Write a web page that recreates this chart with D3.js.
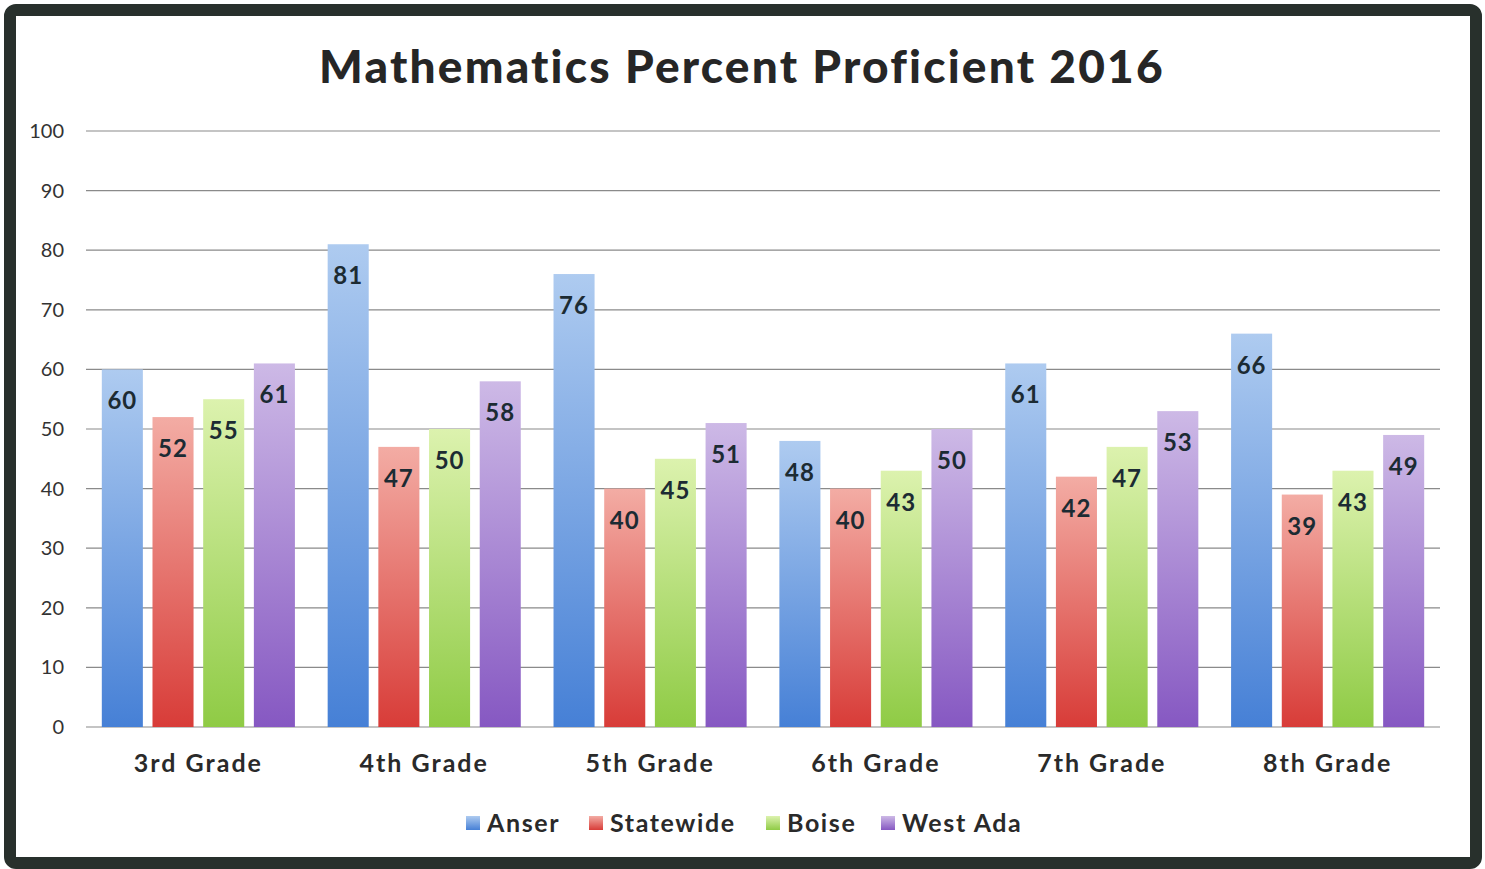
<!DOCTYPE html>
<html>
<head>
<meta charset="utf-8">
<script src="https://cdn.jsdelivr.net/npm/d3@7"></script>
<style>
  html, body { margin: 0; padding: 0; background: #fff; }
  svg { display: block; font-family: "Lato", "Noto Sans", sans-serif; }
</style>
</head>
<body>
<div id="chart"></div>
<script>
// chart data
const grades = ["3rd Grade", "4th Grade", "5th Grade", "6th Grade", "7th Grade", "8th Grade"];
const seriesNames = ["Anser", "Statewide", "Boise", "West Ada"];
const anser = [60, 81, 76, 48, 61, 66];
const statewide = [52, 47, 40, 40, 42, 39];
const boise = [55, 50, 45, 43, 47, 43];
const westAda = [61, 58, 51, 50, 53, 49];
const yTicks = [0, 10, 20, 30, 40, 50, 60, 70, 80, 90, 100];

const seriesValues = [anser, statewide, boise, westAda];
// top / bottom colours of each bar gradient
const barColors = [
    ["#aecbf0", "#4680d6"],
    ["#f3aca4", "#d83c38"],
    ["#dcf2ae", "#8fcb45"],
    ["#cdb9e6", "#8658c2"]
];

const width = 1485, height = 869;
const plot = { left: 86, right: 1440, top: 131, bottom: 727 };

const svg = d3.select("#chart").append("svg")
    .attr("width", width)
    .attr("height", height);

// frame
svg.append("rect")
    .attr("x", 10).attr("y", 10)
    .attr("width", 1466).attr("height", 853)
    .attr("rx", 6)
    .attr("fill", "#fff")
    .attr("stroke", "#28302c")
    .attr("stroke-width", 12);

// gradients
const defs = svg.append("defs");
barColors.forEach((c, i) => {
    const grad = defs.append("linearGradient")
        .attr("id", "grad" + i)
        .attr("x1", 0).attr("y1", 0).attr("x2", 0).attr("y2", 1);
    grad.append("stop").attr("offset", "0%").attr("stop-color", c[0]);
    grad.append("stop").attr("offset", "100%").attr("stop-color", c[1]);
});

// title
svg.append("text")
    .attr("x", 742).attr("y", 83)
    .attr("text-anchor", "middle")
    .attr("font-size", 46)
    .attr("font-weight", "900")
    .attr("letter-spacing", 2.2)
    .attr("fill", "#262626")
    .text("Mathematics Percent Proficient 2016");

// scales
const y = d3.scaleLinear().domain([0, 100]).range([plot.bottom, plot.top]);
const x0 = d3.scaleBand().domain(grades).range([plot.left, plot.right]).paddingInner(0.145).paddingOuter(0.07);
const x1 = d3.scaleBand().domain(seriesNames).range([0, x0.bandwidth()]).paddingInner(0.19);

// gridlines
svg.append("g")
    .selectAll("line")
    .data(yTicks)
    .join("line")
    .attr("x1", plot.left).attr("x2", plot.right)
    .attr("y1", d => y(d)).attr("y2", d => y(d))
    .attr("stroke", "#8a8a8a")
    .attr("stroke-width", 1.2);

// y axis labels
const yAxis = svg.append("g")
    .attr("transform", `translate(${plot.left - 22},0)`)
    .call(d3.axisLeft(y).tickValues(yTicks).tickSize(0).tickPadding(0));
yAxis.select(".domain").remove();
yAxis.selectAll("text")
    .attr("font-size", 20)
    .attr("font-family", "Lato, sans-serif")
    .attr("fill", "#333");

// bars
const rows = grades.map((g, gi) => ({
    grade: g,
    vals: seriesNames.map((s, si) => ({ series: s, si: si, value: seriesValues[si][gi] }))
}));

const groups = svg.append("g")
    .selectAll("g")
    .data(rows)
    .join("g")
    .attr("transform", d => `translate(${x0(d.grade)},0)`);

groups.selectAll("rect")
    .data(d => d.vals)
    .join("rect")
    .attr("x", d => x1(d.series))
    .attr("y", d => y(d.value))
    .attr("width", x1.bandwidth())
    .attr("height", d => y(0) - y(d.value))
    .attr("fill", d => `url(#grad${d.si})`);

groups.selectAll("text")
    .data(d => d.vals)
    .join("text")
    .attr("x", d => x1(d.series) + x1.bandwidth() / 2)
    .attr("y", d => y(d.value) + 40)
    .attr("text-anchor", "middle")
    .attr("font-size", 24)
    .attr("font-weight", "bold")
    .attr("letter-spacing", 1)
    .attr("fill", "#1c2b33")
    .text(d => d.value);

// x axis labels
const xAxis = svg.append("g")
    .attr("transform", `translate(0,${plot.bottom})`)
    .call(d3.axisBottom(x0).tickSize(0).tickPadding(0));
xAxis.select(".domain").remove();
xAxis.selectAll("text")
    .attr("dy", 0)
    .attr("y", 45)
    .attr("font-size", 25)
    .attr("font-weight", "bold")
    .attr("letter-spacing", 2)
    .attr("font-family", "Lato, sans-serif")
    .attr("fill", "#2a2a2a");

// legend
const legendX = [466, 589, 766, 881];
const legend = svg.append("g")
    .selectAll("g")
    .data(seriesNames)
    .join("g")
    .attr("transform", (d, i) => `translate(${legendX[i]},823)`);
legend.append("rect")
    .attr("x", 0).attr("y", -7)
    .attr("width", 14).attr("height", 14)
    .attr("fill", (d, i) => `url(#grad${i})`);
legend.append("text")
    .attr("x", 21).attr("y", 9)
    .attr("font-size", 25)
    .attr("font-weight", "bold")
    .attr("letter-spacing", 1.6)
    .attr("fill", "#2a2a2a")
    .text(d => d);
</script>
</body>
</html>
